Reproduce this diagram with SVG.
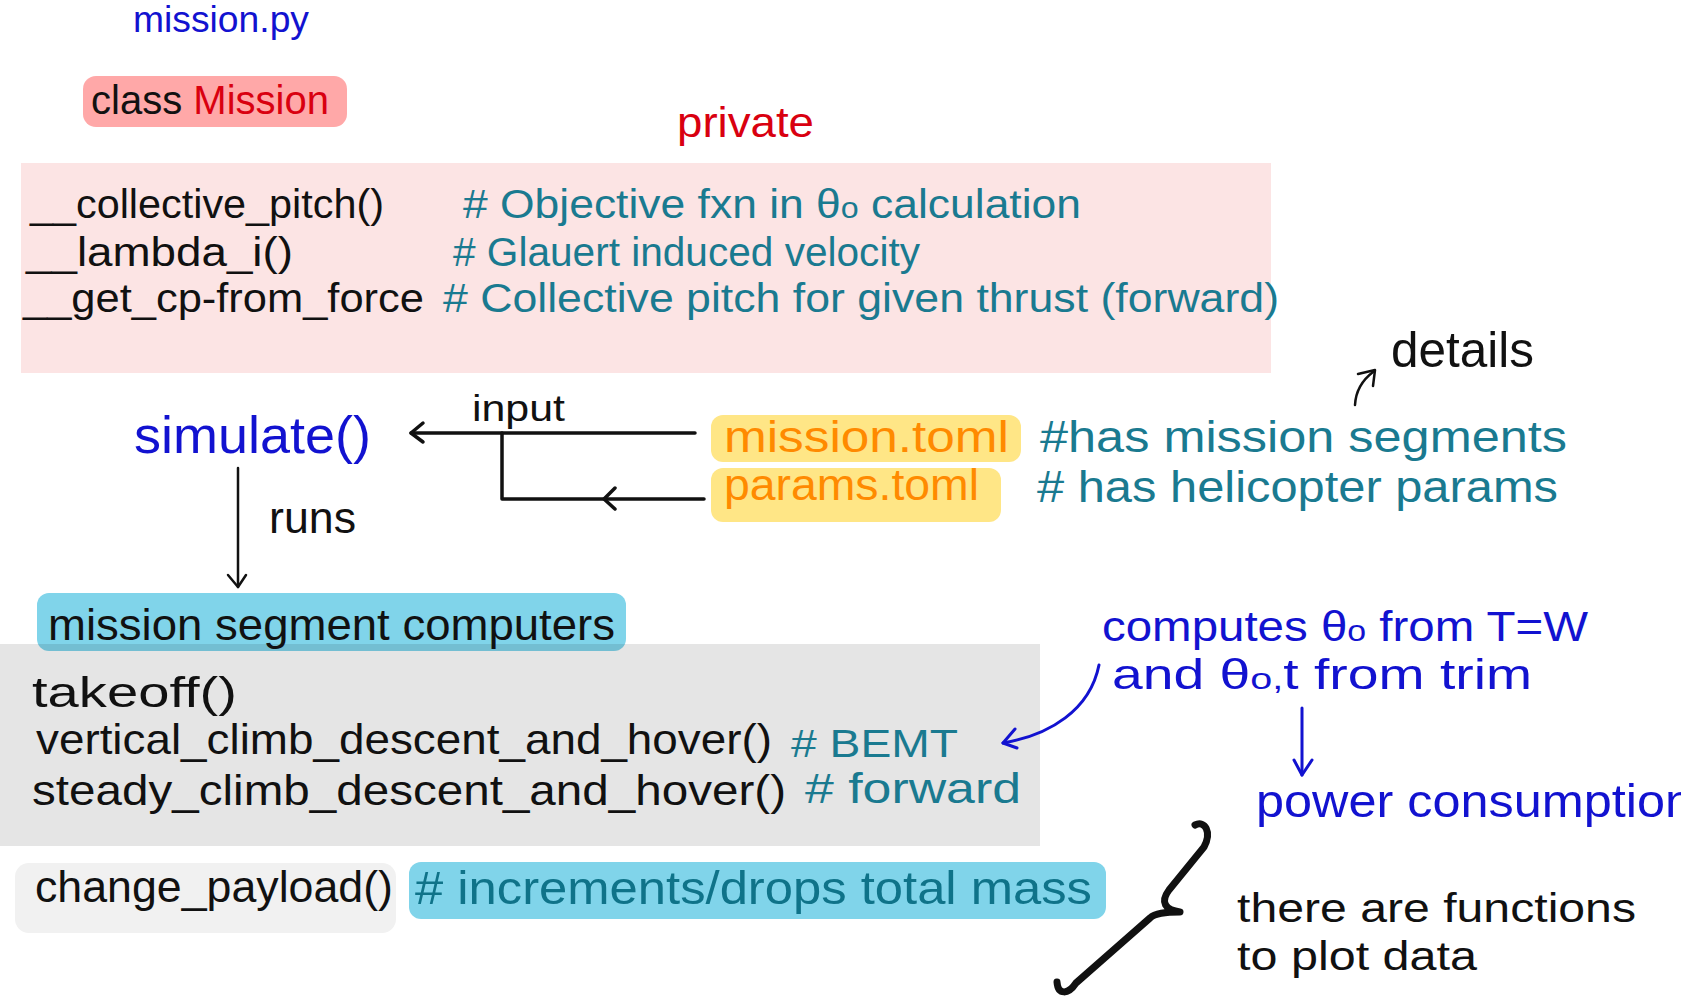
<svg xmlns="http://www.w3.org/2000/svg" width="1681" height="1000" viewBox="0 0 1681 1000">
<style>
text{font-family:"Liberation Sans","DejaVu Sans",sans-serif;}
.k{fill:#111;}
.b{fill:#1212d0;}
.t{fill:#1a7a90;}
.t2{fill:#0f7389;}
.o{fill:#ff8a00;}
.r{fill:#d90010;}
.ln{fill:none;stroke:#111;stroke-width:3.5;stroke-linecap:round;stroke-linejoin:round;}
.ln2{fill:none;stroke:#111;stroke-width:2.5;stroke-linecap:round;stroke-linejoin:round;}
.bl{fill:none;stroke:#1212d0;stroke-width:3;stroke-linecap:round;stroke-linejoin:round;}
.cy{fill:#80d4ea;}
.ye{fill:#ffe686;}
</style>
<rect width="1681" height="1000" fill="#fff"/>

<g id="title">
<text class="b" x="133" y="32" font-size="36" textLength="176" lengthAdjust="spacingAndGlyphs">mission.py</text>
</g>

<g id="class-mission">
<rect x="83" y="76" width="264" height="51" rx="13" fill="#ffa8a8"/>
<text x="91" y="114" font-size="41" textLength="238" lengthAdjust="spacingAndGlyphs"><tspan class="k">class </tspan><tspan class="r">Mission</tspan></text>
</g>

<g id="private-label">
<text class="r" x="677" y="137" font-size="43" textLength="137" lengthAdjust="spacingAndGlyphs">private</text>
</g>

<g id="private-methods">
<rect x="21" y="163" width="1250" height="210" fill="#fce4e4"/>
<text class="k" x="30" y="218" font-size="40" textLength="354" lengthAdjust="spacingAndGlyphs">__collective_pitch()</text>
<text class="t" x="463" y="218" font-size="40" textLength="618" lengthAdjust="spacingAndGlyphs"># Objective fxn in θ<tspan font-size="29">o</tspan> calculation</text>
<text class="k" x="26" y="266" font-size="40" textLength="267" lengthAdjust="spacingAndGlyphs">__lambda_i()</text>
<text class="t" x="453" y="266" font-size="40" textLength="467" lengthAdjust="spacingAndGlyphs"># Glauert induced velocity</text>
<text class="k" x="23" y="312" font-size="40" textLength="401" lengthAdjust="spacingAndGlyphs">__get_cp-from_force</text>
<text class="t" x="443" y="312" font-size="40" textLength="836" lengthAdjust="spacingAndGlyphs"># Collective pitch for given thrust (forward)</text>
</g>

<g id="details">
<text class="k" x="1391" y="367" font-size="50" textLength="143" lengthAdjust="spacingAndGlyphs">details</text>
</g>

<g id="simulate">
<text class="b" x="134" y="453" font-size="52" textLength="237" lengthAdjust="spacingAndGlyphs">simulate()</text>
</g>

<g id="mission-toml">
<rect class="ye" x="711" y="415" width="310" height="47" rx="12"/>
<text class="o" x="724" y="452" font-size="44" textLength="285" lengthAdjust="spacingAndGlyphs">mission.toml</text>
<text class="t" x="1040" y="452" font-size="44" textLength="527" lengthAdjust="spacingAndGlyphs">#has mission segments</text>
</g>

<g id="params-toml">
<rect class="ye" x="711" y="468" width="290" height="54" rx="12"/>
<text class="o" x="724" y="500" font-size="44" textLength="255" lengthAdjust="spacingAndGlyphs">params.toml</text>
<text class="t" x="1037" y="502" font-size="44" textLength="521" lengthAdjust="spacingAndGlyphs"># has helicopter params</text>
</g>

<g id="segment-computers">
<rect class="cy" x="37" y="593" width="589" height="58" rx="12"/>
<rect x="0" y="644" width="1040" height="202" fill="#000" fill-opacity="0.1"/>
<text class="k" x="48" y="640" font-size="44" textLength="567" lengthAdjust="spacingAndGlyphs">mission segment computers</text>
<text class="k" x="32" y="707" font-size="42" textLength="205" lengthAdjust="spacingAndGlyphs">takeoff()</text>
<text class="k" x="36" y="754" font-size="43" textLength="736" lengthAdjust="spacingAndGlyphs">vertical_climb_descent_and_hover()</text>
<text class="t" x="791" y="757" font-size="38" textLength="167" lengthAdjust="spacingAndGlyphs"># BEMT</text>
<text class="k" x="32" y="805" font-size="43" textLength="754" lengthAdjust="spacingAndGlyphs">steady_climb_descent_and_hover()</text>
<text class="t" x="805" y="803" font-size="42" textLength="216" lengthAdjust="spacingAndGlyphs"># forward</text>
</g>

<g id="change-payload">
<rect x="15" y="863" width="381" height="70" rx="14" fill="#f1f1f1"/>
<text class="k" x="35" y="902" font-size="44" textLength="358" lengthAdjust="spacingAndGlyphs">change_payload()</text>
<rect class="cy" x="409" y="862" width="697" height="57" rx="12"/>
<text class="t2" x="415" y="904" font-size="46" textLength="677" lengthAdjust="spacingAndGlyphs"># increments/drops total mass</text>
</g>

<g id="computes-note">
<text class="b" x="1102" y="641" font-size="42" textLength="486" lengthAdjust="spacingAndGlyphs">computes θ<tspan font-size="30">o</tspan> from T=W</text>
<text class="b" x="1112" y="689" font-size="42" textLength="420" lengthAdjust="spacingAndGlyphs">and θ<tspan font-size="30">o,</tspan>t from trim</text>
</g>

<g id="power-consumption">
<text class="b" x="1256" y="817" font-size="46" textLength="437" lengthAdjust="spacingAndGlyphs">power consumption</text>
</g>

<g id="plot-note">
<text class="k" x="1237" y="922" font-size="40" textLength="399" lengthAdjust="spacingAndGlyphs">there are functions</text>
<text class="k" x="1237" y="970" font-size="40" textLength="240" lengthAdjust="spacingAndGlyphs">to plot data</text>
</g>

<g id="connectors">
<path class="ln" d="M695,433 H411"/>
<path class="ln" d="M423,423 L411,433 L423,442"/>
<path class="ln" d="M704,499 H502 V433"/>
<path class="ln" d="M615,488 L604,499 L615,509"/>
<text class="k" x="472" y="421" font-size="36" textLength="93" lengthAdjust="spacingAndGlyphs">input</text>
<path class="ln2" d="M238,468 V587"/>
<path class="ln2" d="M228,575 L238,587 L246,575"/>
<text class="k" x="269" y="533" font-size="44" textLength="87" lengthAdjust="spacingAndGlyphs">runs</text>
<path class="ln2" d="M1355,405 Q1356,385 1373,372"/>
<path class="ln2" d="M1358,374 L1375,370 L1373,386"/>
<path class="bl" d="M1099,665 C1090,710 1050,735 1003,743"/>
<path class="bl" d="M1015,729 L1003,743 L1017,748"/>
<path class="bl" d="M1302,708 V775"/>
<path class="bl" d="M1294,760 L1302,775 L1312,760"/>
<path fill="none" stroke="#111" stroke-width="7" stroke-linecap="round" stroke-linejoin="round" d="M1195,825 C1205,820 1212,832 1204,847 L1169,890 C1160,902 1165,910 1180,912 C1165,912 1155,913 1150,918 L1076,983 C1068,995 1058,995 1057,982"/>
</g>
</svg>
